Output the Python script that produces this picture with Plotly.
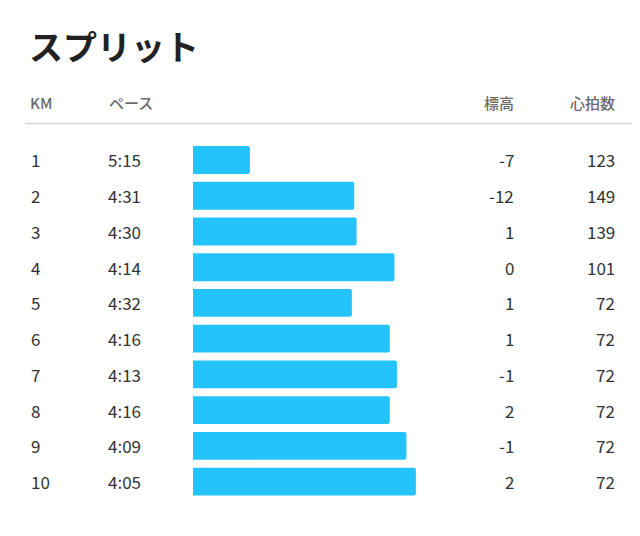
import plotly.graph_objects as go

# split data
km = [1, 2, 3, 4, 5, 6, 7, 8, 9, 10]
pace = ["5:15", "4:31", "4:30", "4:14", "4:32", "4:16", "4:13", "4:16", "4:09", "4:05"]
elevation = [-7, -12, 1, 0, 1, 1, -1, 2, -1, 2]
heart_rate = [123, 149, 139, 101, 72, 72, 72, 72, 72, 72]

# page has an 8px body margin, so the figure is a bit smaller than the window
OFF = 8
W, H = 640 - OFF, 536 - 2 * OFF
BAR_REF = 339  # slowest pace (sec) that would give a zero-length bar


def secs(p):
    m, s = p.split(":")
    return int(m) * 60 + int(s)


pace_sec = [secs(p) for p in pace]
bar_len = [BAR_REF - s for s in pace_sec]
rows = list(range(len(km)))


# helpers: window pixel -> paper coords
def px(x):
    return (x - OFF) / W


def py_(y):
    return 1 - (y - OFF) / H


fig = go.Figure()
fig.add_trace(go.Bar(
    x=bar_len, y=rows, orientation="h",
    marker=dict(color="#24c3fc", line=dict(width=0)),
    width=0.78, hoverinfo="skip",
))

text_font = dict(family="Noto Sans CJK JP, sans-serif", size=17, color="#333333")
head_font = dict(family="Noto Sans CJK JP, sans-serif", size=15, color="#6a6a6a", weight=500)

ann = []
for i in rows:
    ann.append(dict(x=px(29), y=i, xref="paper", yref="y", text=str(km[i]),
                    xanchor="left", showarrow=False, font=text_font))
    ann.append(dict(x=px(106), y=i, xref="paper", yref="y", text=pace[i],
                    xanchor="left", showarrow=False, font=text_font))
    ann.append(dict(x=px(516), y=i, xref="paper", yref="y", text=str(elevation[i]),
                    xanchor="right", showarrow=False, font=text_font))
    ann.append(dict(x=px(617), y=i, xref="paper", yref="y", text=str(heart_rate[i]),
                    xanchor="right", showarrow=False, font=text_font))

# headers
for label, x, anchor in [("KM", 28, "left"), ("ペース", 107, "left"),
                         ("標高", 516, "right"), ("心拍数", 617, "right")]:
    ann.append(dict(x=px(x), y=py_(102), xref="paper", yref="paper", text=label,
                    xanchor=anchor, yanchor="middle", showarrow=False, font=head_font))

# title
ann.append(dict(x=px(27), y=py_(46), xref="paper", yref="paper", text="<b>スプリット</b>",
                xanchor="left", yanchor="middle", showarrow=False,
                font=dict(family="Noto Sans CJK JP, sans-serif", size=34, color="#222222")))

# rounded edge of the panel peeking in at the right
x0, x1, y0, y1, r = px(636.5), px(641), py_(150), py_(388), 5
rx, ry = r / W, r / H
panel = ("M %f,%f L %f,%f Q %f,%f %f,%f L %f,%f Q %f,%f %f,%f L %f,%f"
         % (x1, y0, x0 + rx, y0, x0, y0, x0, y0 - ry, x0, y1 + ry,
            x0, y1, x0 + rx, y1, x1, y1))

shapes = [
    dict(type="line", xref="paper", yref="paper", x0=px(25), x1=1,
         y0=py_(123.5), y1=py_(123.5), line=dict(color="#d6d6d6", width=1.5)),
    dict(type="path", xref="paper", yref="paper", path=panel,
         line=dict(color="#b5b5b5", width=1.3)),
]

fig.update_layout(
    width=W, height=H,
    margin=dict(l=0, r=0, t=0, b=0),
    paper_bgcolor="white", plot_bgcolor="white",
    showlegend=False,
    barcornerradius=2,
    xaxis=dict(domain=[px(193), px(430)], range=[0, (430 - 193) / 2.371],
               visible=False, fixedrange=True),
    yaxis=dict(domain=[py_(499.5), py_(142.1)], range=[9.5, -0.5],
               visible=False, fixedrange=True),
    annotations=ann,
    shapes=shapes,
)

fig.write_html("out.html")
